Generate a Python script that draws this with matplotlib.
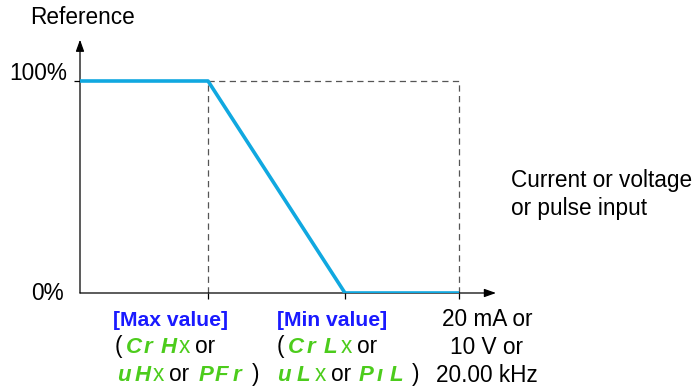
import matplotlib

matplotlib.use("Agg")
import matplotlib.pyplot as plt

plt.rcParams["font.family"] = ["Liberation Sans", "DejaVu Sans"]

# input positions (axis units from origin) and reference level in %
x_max = 128
x_min = 265
x_full = 379
inputs = [0, x_max, x_min, x_full]
reference = [100, 100, 0, 0]

BLUE_LINE = "#10a8e0"
GREEN = "#4ccc1c"
LABEL_BLUE = "#1a1aff"
FS = 16.3
FS_BOLD = 15.2
FS_SEG = 16

fig = plt.figure(figsize=(6.93, 3.90), dpi=100)
W, H = 693, 390
ax = fig.add_axes([80 / W, (H - 293) / H, 420 / W, 258 / H])
ax.set_xlim(0, 420)
ax.set_ylim(0, 258 / 2.12)
for s in ("top", "right", "left", "bottom"):
    ax.spines[s].set_visible(False)

# dashed guides
dash = dict(color="#555555", lw=0.9, ls=(0, (5, 3.5)))
ax.plot([x_max, x_max], [0, 100], **dash)
ax.plot([x_max, x_full], [100, 100], **dash)
ax.plot([x_full, x_full], [0, 100], **dash)

# axes with arrows
arr = dict(arrowstyle="-|>,head_length=0.7,head_width=0.25", color="black", lw=0.9,
           shrinkA=0, shrinkB=0)
ax.annotate("", xy=(416, 0), xytext=(0, 0), arrowprops=arr, annotation_clip=False)
ax.annotate("", xy=(0, 119.5), xytext=(0, 0), arrowprops=arr, annotation_clip=False)

ax.set_xticks([x_max, x_min, x_full])
ax.set_yticks([100])
ax.tick_params(length=4, width=0.9, labelbottom=False, labelleft=False)

ax.plot(inputs, reference, color=BLUE_LINE, lw=2.6, solid_capstyle="butt", zorder=3)


# plain text labels (figure pixels, y from top)
def ftext(x, y, s, size=FS, **kw):
    return fig.text(x / W, 1 - y / H, s, fontsize=size, **kw)


ftext(82, 18, "Reference", ha="center", va="center")
ftext(67, 73, "100%", ha="right", va="center")
ftext(64, 293, "0%", ha="right", va="center")
ftext(511, 181, "Current or voltage", ha="left", va="center")
ftext(511, 209, "or pulse input", ha="left", va="center")
ftext(171, 320, "[Max value]", size=FS_BOLD, ha="center", va="center",
      color=LABEL_BLUE, fontweight="bold")
ftext(332, 320, "[Min value]", size=FS_BOLD, ha="center", va="center",
      color=LABEL_BLUE, fontweight="bold")
ftext(487, 320, "20 mA or", ha="center", va="center")
ftext(487, 348, "10 V or", ha="center", va="center")
ftext(487, 376, "20.00 kHz", ha="center", va="center")


def rich(y, parts):
    # parts: (left x in px, text, kind) on one baseline
    for x, txt, kind in parts:
        if kind == "seg":
            kw = dict(size=FS_SEG, color=GREEN, fontstyle="italic", fontweight="bold")
        elif kind == "g":
            kw = dict(color=GREEN)
        else:
            kw = dict(color="black")
        ftext(x, y, txt, ha="left", va="baseline", **kw)


rich(353, [(115, "(", "k"), (126, "C", "seg"), (144, "r", "seg"), (161, "H", "seg"),
           (179, "x", "g"), (195, "or", "k")])
rich(381, [(117, "u", "seg"), (135, "H", "seg"), (153, "x", "g"), (169, "or", "k"),
           (199, "P", "seg"), (215, "F", "seg"), (233, "r", "seg"), (252, ")", "k")])
rich(353, [(277, "(", "k"), (288, "C", "seg"), (307, "r", "seg"), (324, "L", "seg"),
           (341, "x", "g"), (357, "or", "k")])
rich(381, [(277, "u", "seg"), (297, "L", "seg"), (315, "x", "g"), (331, "or", "k"),
           (359, "P", "seg"), (377, "ı", "seg"), (390, "L", "seg"), (412, ")", "k")])

fig.savefig("out.png", dpi=100)
